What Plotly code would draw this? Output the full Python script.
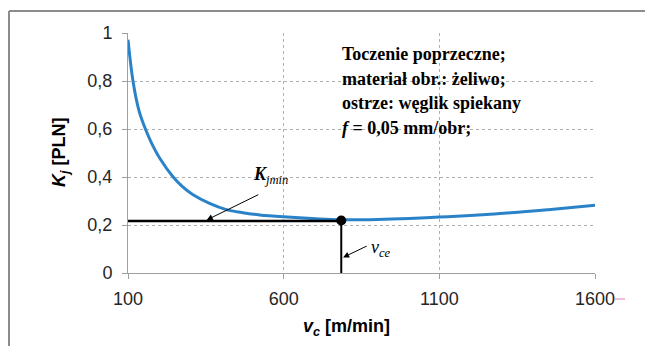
import plotly.graph_objects as go

# ---- data ----
vc = [100, 116, 135, 156, 178, 202, 245, 275, 309, 362, 416, 469, 523, 599,
      705, 785, 900, 1004, 1100, 1200, 1330, 1450, 1600]
kj = [0.972, 0.80, 0.678, 0.60, 0.535, 0.478, 0.40, 0.36, 0.326, 0.29, 0.264,
      0.251, 0.242, 0.234, 0.226, 0.222, 0.223, 0.227, 0.233, 0.240, 0.251,
      0.264, 0.282]

vce = 785          # optimum cutting speed
kjmin = 0.217      # minimum cost

x_ticks = [100, 600, 1100, 1600]
x_ticklabels = ["100", "600", "1100", "1600"]
y_ticks = [0, 0.2, 0.4, 0.6, 0.8, 1]
y_ticklabels = ["0", "0,2", "0,4", "0,6", "0,8", "1"]

info_lines = [
    "<b>Toczenie poprzeczne;</b>",
    "<b>materiał obr.: żeliwo;</b>",
    "<b>ostrze: węglik spiekany</b>",
    "<b><i>f</i> = 0,05 mm/obr;</b>",
]

W, H = 645, 346
L, R, T, B = 128, 50, 33, 73
PW, PH = W - L - R, H - T - B


def px(x):
    return (x - L) / PW


def py(y):
    return (H - B - y) / PH


fig = go.Figure()

# cost curve
fig.add_trace(go.Scatter(
    x=vc, y=kj, mode="lines",
    line=dict(color="#2a83c9", width=3, shape="spline", smoothing=1.0),
    hoverinfo="skip", showlegend=False))

# horizontal line to the minimum
fig.add_trace(go.Scatter(
    x=[vc[0], vce], y=[kjmin, kjmin], mode="lines",
    line=dict(color="black", width=2.5), hoverinfo="skip", showlegend=False))
# vertical line from minimum
fig.add_trace(go.Scatter(
    x=[vce, vce], y=[kjmin, 0], mode="lines",
    line=dict(color="black", width=2), hoverinfo="skip", showlegend=False))
# minimum dot
fig.add_trace(go.Scatter(
    x=[vce], y=[kjmin + 0.002], mode="markers",
    marker=dict(color="black", size=10), hoverinfo="skip", showlegend=False))

axis_common = dict(
    showline=True, linecolor="#a0a0a0", linewidth=1,
    showgrid=True, gridcolor="#b0b0b0", gridwidth=1, griddash="dot",
    ticks="outside", ticklen=5, tickcolor="#a0a0a0",
    tickfont=dict(family="Liberation Sans, Arial", size=18, color="#262626"),
    zeroline=False, automargin=False,
)

fig.update_xaxes(range=[100, 1600], tickvals=x_ticks, ticktext=x_ticklabels,
                 ticklabelstandoff=4, **axis_common)
fig.update_yaxes(range=[0, 1], tickvals=y_ticks, ticktext=y_ticklabels,
                 ticklabelstandoff=6, **axis_common)

shapes = []
# white box behind info text (covers gridlines)
shapes.append(dict(type="rect", xref="paper", yref="paper",
                   x0=px(341), x1=px(540), y0=py(160), y1=py(47),
                   fillcolor="white", line=dict(width=0), layer="between"))
# outer frame (cut at right and bottom)
shapes.append(dict(type="line", xref="paper", yref="paper",
                   x0=px(9), x1=px(650), y0=py(11), y1=py(11),
                   line=dict(color="#8c8c8c", width=2)))
shapes.append(dict(type="line", xref="paper", yref="paper",
                   x0=px(9), x1=px(9), y0=py(11), y1=py(350),
                   line=dict(color="#8c8c8c", width=2)))
# small pink stray mark next to 1600 label
shapes.append(dict(type="line", xref="paper", yref="paper",
                   x0=px(615), x1=px(625), y0=py(299), y1=py(299),
                   line=dict(color="#e87ab0", width=1)))

annotations = []
for i, line in enumerate(info_lines):
    annotations.append(dict(
        xref="paper", yref="paper", x=px(340), y=py(54 + 24.5 * i),
        xanchor="left", yanchor="middle", text=line, showarrow=False,
        font=dict(family="Liberation Serif, Times New Roman", size=18, color="black")))

# arrow to K_jmin line
annotations.append(dict(
    x=353, y=kjmin + 0.004, xref="x", yref="y", text="", showarrow=True,
    ax=53, ay=-26, arrowhead=2, arrowsize=1.2, arrowwidth=1, arrowcolor="black"))
annotations.append(dict(
    xref="paper", yref="paper", x=px(270), y=py(175), text="<b><i>K</i></b><i><sub>jmin</sub></i>",
    showarrow=False, xanchor="center", yanchor="middle",
    font=dict(family="Liberation Serif, Times New Roman", size=18, color="black")))

# arrow to v_ce line
annotations.append(dict(
    x=vce + 6, y=0.065, xref="x", yref="y", text="", showarrow=True,
    ax=25, ay=-12, arrowhead=2, arrowsize=1.2, arrowwidth=1, arrowcolor="black"))
annotations.append(dict(
    xref="paper", yref="paper", x=px(381), y=py(248), text="<i>v<sub>ce</sub></i>",
    showarrow=False, xanchor="center", yanchor="middle",
    font=dict(family="Liberation Serif, Times New Roman", size=18, color="black")))

# axis titles
annotations.append(dict(
    xref="paper", yref="paper", x=px(60), y=py(152),
    text="<b><i>K</i><sub><i>j</i></sub> [PLN]</b>", textangle=-90,
    showarrow=False, xanchor="center", yanchor="middle",
    font=dict(family="Liberation Sans, Arial", size=18, color="black")))
annotations.append(dict(
    xref="paper", yref="paper", x=px(346), y=py(327),
    text="<b><i>v</i><sub><i>c</i></sub> [m/min]</b>",
    showarrow=False, xanchor="center", yanchor="middle",
    font=dict(family="Liberation Sans, Arial", size=18, color="black")))

fig.update_layout(
    width=W, height=H,
    margin=dict(l=L, r=R, t=T, b=B, autoexpand=False),
    paper_bgcolor="white", plot_bgcolor="white",
    shapes=shapes, annotations=annotations, showlegend=False,
    hovermode=False,
)

fig.write_html("out.html", config={"displayModeBar": False, "staticPlot": True},
               post_script="document.body.style.margin='0';document.body.style.padding='0';")
